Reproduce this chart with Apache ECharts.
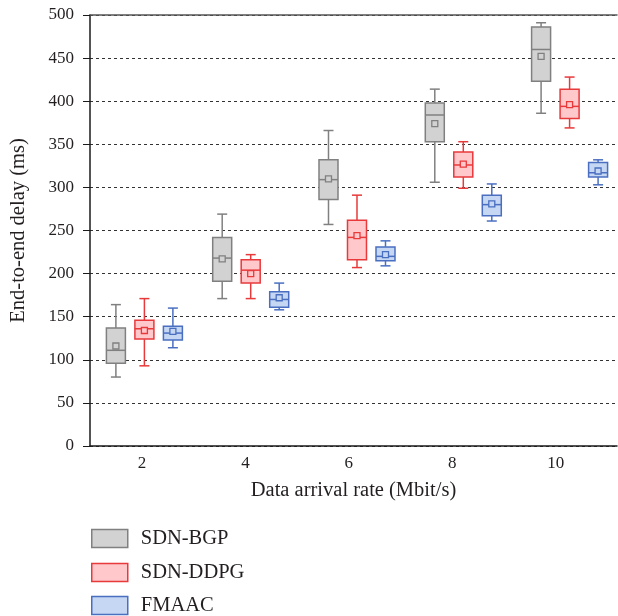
<!DOCTYPE html>
<html>
<head>
<meta charset="utf-8">
<script src="https://cdn.jsdelivr.net/npm/echarts@6/dist/echarts.min.js"></script>
<style>
  html, body { margin: 0; padding: 0; background: #fff; }
  #chart { width: 618px; height: 616px; }
</style>
</head>
<body>
<div id="chart"></div>
<script>
'use strict';

// data arrival rate (Mbit/s)
var rates = [2, 4, 6, 8, 10];
var rateTicks = [2, 4, 6, 8, 10];
var seriesNames = ['SDN-BGP', 'SDN-DDPG', 'FMAAC'];

// [min, q1, median, q3, max] per rate
var bgpBox = [
    [80, 96, 111, 137, 164],
    [171, 191, 218, 242, 269],
    [257, 286, 309, 332, 366],
    [306, 353, 384, 398, 414],
    [386, 423, 460, 486, 491]
];
var bgpMean = [116, 217, 310, 374, 452];

var ddpgBox = [
    [93, 124, 136, 146, 171],
    [171, 189, 204, 216, 222],
    [207, 216, 242, 262, 291],
    [299, 312, 326, 341, 353],
    [369, 380, 394, 414, 428]
];
var ddpgMean = [134, 200, 244, 327, 396];

var fmaacBox = [
    [114, 123, 131, 139, 160],
    [158, 161, 170, 179, 189],
    [209, 215, 220, 231, 238],
    [261, 267, 280, 291, 304],
    [303, 312, 317, 329, 332]
];
var fmaacMean = [133, 172, 222, 281, 319];

var FONT = '"Liberation Serif", "DejaVu Serif", serif';
var TEXT = '#231f20';

var styles = [
    { fill: '#d2d2d2', stroke: '#808080', offset: -28.5 },
    { fill: '#ffc9cc', stroke: '#e8393b', offset: 0 },
    { fill: '#c5d7f2', stroke: '#4a6fc1', offset: 28.5 }
];

function buildRows(box, mean) {
    return rates.map(function(r, i) {
        return [r].concat(box[i]).concat([mean[i]]);
    });
}

function makeRender(st) {
    return function(params, api) {
        var x = api.value(0);
        var cx = api.coord([x, 0])[0] + st.offset;
        var y = function(v) { return api.coord([x, v])[1]; };
        var yMin = y(api.value(1)), yQ1 = y(api.value(2)), yMed = y(api.value(3));
        var yQ3 = y(api.value(4)), yMax = y(api.value(5)), yMean = y(api.value(6));
        var bw = 19, cw = 10, ms = 6;
        var line = { stroke: st.stroke, lineWidth: 1.5 };
        return {
            type: 'group',
            children: [
                { type: 'line', shape: { x1: cx, y1: yMax, x2: cx, y2: yQ3 }, style: line },
                { type: 'line', shape: { x1: cx, y1: yQ1, x2: cx, y2: yMin }, style: line },
                { type: 'line', shape: { x1: cx - cw / 2, y1: yMax, x2: cx + cw / 2, y2: yMax }, style: line },
                { type: 'line', shape: { x1: cx - cw / 2, y1: yMin, x2: cx + cw / 2, y2: yMin }, style: line },
                {
                    type: 'rect',
                    shape: { x: cx - bw / 2, y: yQ3, width: bw, height: yQ1 - yQ3 },
                    style: { fill: st.fill, stroke: st.stroke, lineWidth: 1.5 }
                },
                { type: 'line', shape: { x1: cx - bw / 2, y1: yMed, x2: cx + bw / 2, y2: yMed }, style: line },
                {
                    type: 'rect',
                    shape: { x: cx - ms / 2, y: yMean - ms / 2, width: ms, height: ms },
                    style: { fill: st.fill, stroke: st.stroke, lineWidth: 1.3 }
                }
            ]
        };
    };
}

var allRows = [buildRows(bgpBox, bgpMean), buildRows(ddpgBox, ddpgMean), buildRows(fmaacBox, fmaacMean)];

// one legend per entry so they stack like the original
var legendTops = [528, 562, 595];
var legends = seriesNames.map(function(n, i) {
    return {
        left: 91,
        top: legendTops[i],
        padding: 0,
        itemWidth: 36,
        itemHeight: 18,
        icon: 'rect',
        textStyle: { fontFamily: FONT, fontSize: 20.5, color: TEXT, padding: [0, 0, 0, 8] },
        data: [{
            name: n,
            itemStyle: { color: styles[i].fill, borderColor: styles[i].stroke, borderWidth: 1.5 }
        }]
    };
});

var chart = echarts.init(document.getElementById('chart'));

var option = {
    animation: false,
    backgroundColor: '#fff',
    textStyle: { fontFamily: FONT, color: TEXT },
    grid: { left: 89, right: 1, top: 15, bottom: 170 },
    legend: legends,
    xAxis: [{
        type: 'value',
        min: 0.997,
        max: 11.182,
        position: 'bottom',
        name: 'Data arrival rate (Mbit/s)',
        nameLocation: 'middle',
        nameGap: 34,
        nameTextStyle: { fontFamily: FONT, fontSize: 20.5, color: TEXT },
        axisLine: { onZero: false, lineStyle: { color: '#1a1a1a', width: 1.5 } },
        axisTick: { show: false },
        axisLabel: { customValues: rateTicks, margin: 9, fontFamily: FONT, fontSize: 17, color: TEXT },
        splitLine: { show: false }
    }, {
        type: 'value',
        min: 0.9765,
        max: 10.892,
        position: 'top',
        axisLine: { show: true, onZero: false, lineStyle: { color: '#555', width: 1.5 } },
        axisTick: { show: false },
        axisLabel: { show: false },
        splitLine: { show: false }
    }],
    yAxis: {
        type: 'value',
        min: 0,
        max: 500,
        interval: 50,
        name: 'End-to-end delay (ms)',
        nameLocation: 'middle',
        nameGap: 61,
        nameTextStyle: { fontFamily: FONT, fontSize: 20.5, color: TEXT },
        axisLine: { show: true, onZero: false, lineStyle: { color: '#1a1a1a', width: 1.5 } },
        axisTick: { show: true, length: 7, lineStyle: { color: '#1a1a1a', width: 1 } },
        axisLabel: { margin: 16, fontFamily: FONT, fontSize: 17, color: TEXT },
        splitLine: { show: true, lineStyle: { color: '#333', width: 1, type: [3, 3] } }
    },
    series: seriesNames.map(function(n, i) {
        return {
            name: n,
            type: 'custom',
            xAxisIndex: 1,
            yAxisIndex: 0,
            itemStyle: { color: styles[i].fill, borderColor: styles[i].stroke },
            encode: { x: 0, y: [1, 2, 3, 4, 5, 6] },
            renderItem: makeRender(styles[i]),
            data: allRows[i]
        };
    })
};

chart.setOption(option);
</script>
</body>
</html>
